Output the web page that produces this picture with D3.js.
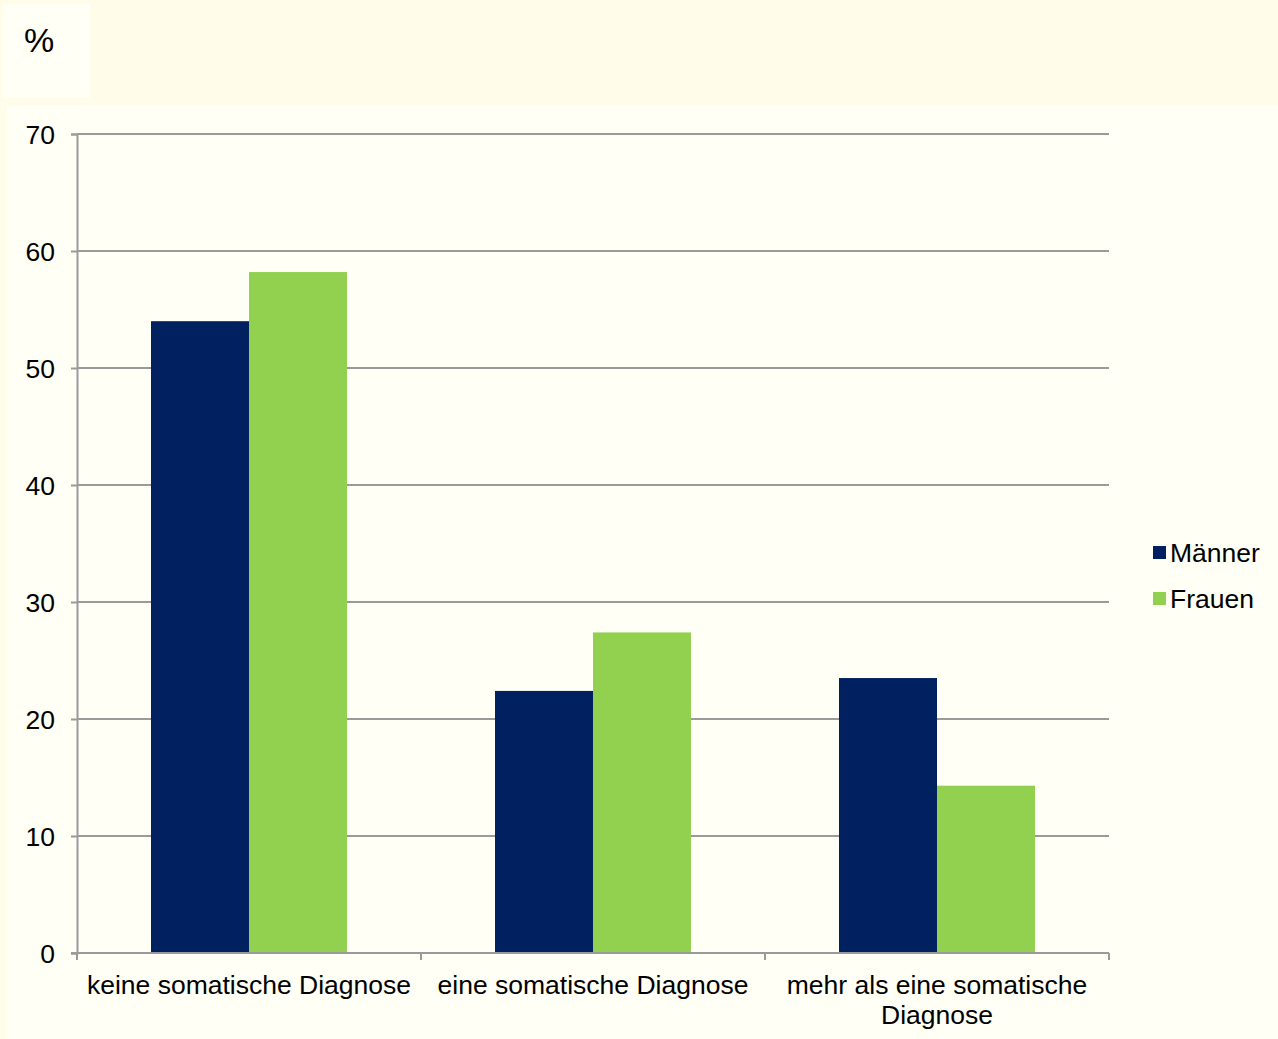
<!DOCTYPE html>
<html>
<head>
<meta charset="utf-8">
<script src="https://cdn.jsdelivr.net/npm/d3@7"></script>
<style>
  html, body { margin: 0; padding: 0; background: #FFFDE9; }
  svg { display: block; }
  text { font-family: "Liberation Sans", Arial, sans-serif; fill: #000; }
</style>
</head>
<body>
<svg id="chart" width="1278" height="1039"></svg>
<script>
// Anteil der Patienten nach Anzahl somatischer Diagnosen, getrennt nach Geschlecht
const categories = [
  ["keine somatische Diagnose"],
  ["eine somatische Diagnose"],
  ["mehr als eine somatische", "Diagnose"]
];
const series = ["Männer", "Frauen"];
const maenner = [54.0, 22.4, 23.5];
const frauen = [58.2, 27.4, 14.3];
const yTicks = [0, 10, 20, 30, 40, 50, 60, 70];
const colors = ["#00205F", "#92D050"];

const fontSize = 26.5;
const svg = d3.select("#chart");

// backgrounds
svg.append("rect").attr("x", 0).attr("y", 0).attr("width", 1278).attr("height", 1039).attr("fill", "#FFFDE9");
svg.append("rect").attr("x", 7).attr("y", 105).attr("width", 1271).attr("height", 934).attr("fill", "#FFFFF6");
svg.append("rect").attr("x", 3).attr("y", 4).attr("width", 87).attr("height", 94).attr("fill", "#FFFFF6");
svg.append("text").attr("x", 24).attr("y", 52).attr("font-size", 34).text("%");

const plot = { left: 77, right: 1109, top: 134, bottom: 953 };

const x = d3.scaleBand()
  .domain(d3.range(categories.length))
  .range([plot.left, plot.right])
  .paddingInner(0)
  .paddingOuter(0);

const x1 = d3.scaleBand()
  .domain(series)
  .range([0, x.bandwidth()])
  .paddingInner(0)
  .paddingOuter(0.755);

const y = d3.scaleLinear().domain([0, 70]).range([plot.bottom, plot.top]);

const gridColor = "#9A9A9A";

// gridlines
svg.append("g").selectAll("line").data(yTicks.filter(d => d > 0)).join("line")
  .attr("x1", plot.left).attr("x2", plot.right)
  .attr("y1", d => y(d)).attr("y2", d => y(d))
  .attr("stroke", gridColor).attr("stroke-width", 2);

// bars
const data = categories.map((c, i) => [maenner[i], frauen[i]]);
const g = svg.append("g");
data.forEach((vals, i) => {
  g.selectAll(null).data(vals).join("rect")
    .attr("x", (d, j) => x(i) + x1(series[j]))
    .attr("width", x1.bandwidth())
    .attr("y", d => y(d))
    .attr("height", d => y(0) - y(d))
    .attr("fill", (d, j) => colors[j]);
});

// y axis
const yAxis = svg.append("g")
  .attr("transform", `translate(${plot.left},0)`)
  .call(d3.axisLeft(y).tickValues(yTicks).tickSize(6).tickPadding(16).tickFormat(d3.format("d")));
yAxis.select(".domain").attr("stroke", gridColor).attr("stroke-width", 2);
yAxis.selectAll(".tick line").attr("stroke", gridColor).attr("stroke-width", 2);
yAxis.selectAll(".tick text").attr("font-size", fontSize).attr("font-family", "Liberation Sans, Arial, sans-serif").attr("fill", "#000").attr("dy", "0.36em");

// x axis baseline and category separators
svg.append("line")
  .attr("x1", plot.left - 6).attr("x2", plot.right)
  .attr("y1", plot.bottom).attr("y2", plot.bottom)
  .attr("stroke", gridColor).attr("stroke-width", 2);
const sepPositions = d3.range(categories.length + 1).map(i => i < categories.length ? x(i) : plot.right);
svg.append("g").selectAll("line").data(sepPositions).join("line")
  .attr("x1", d => d).attr("x2", d => d)
  .attr("y1", plot.bottom).attr("y2", plot.bottom + 7)
  .attr("stroke", gridColor).attr("stroke-width", 2);

// category labels
const labels = svg.append("g");
categories.forEach((lines, i) => {
  const cx = x(i) + x.bandwidth() / 2;
  const t = labels.append("text")
    .attr("text-anchor", "middle")
    .attr("font-size", fontSize)
    .attr("x", cx)
    .attr("y", 994);
  lines.forEach((ln, k) => {
    t.append("tspan").attr("x", cx).attr("dy", k === 0 ? 0 : 30).text(ln);
  });
});

// legend
const legend = svg.append("g").attr("transform", "translate(1153,546)");
series.forEach((s, i) => {
  const row = legend.append("g").attr("transform", `translate(0,${i * 46})`);
  row.append("rect").attr("width", 13).attr("height", 13).attr("fill", colors[i]);
  row.append("text").attr("x", 17).attr("y", 16).attr("font-size", fontSize).text(s);
});
</script>
</body>
</html>
